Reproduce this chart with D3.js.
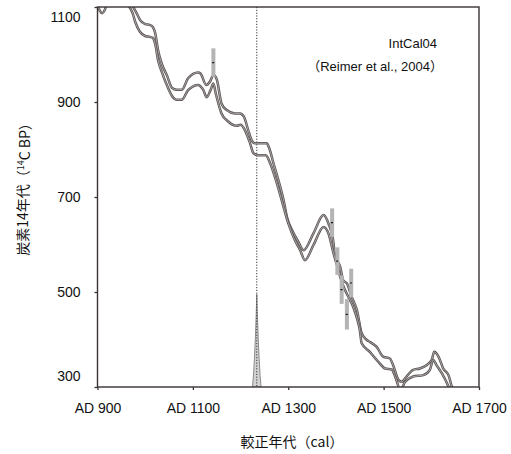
<!DOCTYPE html>
<html><head><meta charset="utf-8">
<script src="https://cdn.jsdelivr.net/npm/d3@7"></script>
<style>body{margin:0;background:#fff}svg{display:block}</style>
</head><body>
<svg id="c" width="511" height="454"></svg>
<script>
// ---- data ----
const xTicks = [900, 1100, 1300, 1500, 1700];
const xTickLabels = ["AD 900", "AD 1100", "AD 1300", "AD 1500", "AD 1700"];
const yTicks = [300, 500, 700, 900, 1100];

const upperYears = [900,920,940,960,975,983,989,1000,1010,1016,1021,1027,1035,1046,1056,1066,1077,1090,1111,1116,1128,1136,1143,1150,1160,1171,1188,1199,1207,1216,1223,1230,1255,1260,1269,1283,1290,1297,1311,1321,1332,1353,1374,1384,1395,1398,1409,1415,1423,1433,1444,1454,1465,1471,1485,1499,1513,1520,1531,1538,1548,1562,1576,1590,1601,1606,1615,1625,1636,1643,1650];
const upperBP    = [1135,1125,1130,1120,1100,1085,1073,1064,1062,1058,1045,1009,980,955,930,926,926,950,962,960,936,943,957,948,897,883,876,876,869,841,820,813,813,803,771,722,694,659,624,606,588,624,662,645,603,574,553,525,518,490,462,413,399,395,385,364,360,346,315,311,322,336,339,346,357,374,364,339,325,301,283];

const lowerYears = [895,900,905,910,915,920,935,955,967,974,979,989,1000,1010,1016,1021,1027,1035,1046,1056,1065,1077,1090,1111,1122,1129,1137,1143,1148,1160,1174,1192,1200,1209,1220,1227,1237,1253,1262,1276,1286,1300,1314,1325,1335,1353,1374,1384,1395,1402,1409,1419,1426,1436,1444,1450,1454,1471,1489,1503,1517,1524,1531,1534,1545,1562,1583,1597,1604,1611,1622,1636,1643];
const lowerBP    = [1120,1105,1092,1087,1093,1108,1125,1115,1100,1086,1069,1048,1039,1037,1035,1022,988,963,934,913,905,905,925,936,925,910,925,939,918,876,859,850,852,841,813,792,788,788,771,729,694,645,609,588,567,599,637,624,581,557,532,504,490,469,445,420,392,374,353,339,337,322,301,290,311,322,325,336,357,346,329,301,283];

// measured samples: year, 14C age, error
const sampleYears = [1143, 1392, 1403, 1412, 1423, 1432];
const sampleBP    = [983, 646, 565, 505, 453, 519];
const sampleErr   = [30, 30, 29, 30, 32, 30];

// calibrated probability distribution
const probYears   = [1225,1227,1229,1231,1233,1234,1235,1237,1239,1241,1243];
const probDensity = [0, 0.12, 0.3, 0.52, 0.82, 1, 0.82, 0.52, 0.3, 0.12, 0];
const dateLineYear = 1234;

// ---- drawing ----
const svg = d3.select("#c");
const L = 97.5, R = 479, T = 7, B = 387;
const x = d3.scaleLinear([900, 1700], [L, R]);
const y = d3.scaleLinear([300, 1100], [B, T]);
const yProb = d3.scaleLinear([0, 1], [y(300), y(495)]);
const axisColor = "#3a3232";
const latin = "'Liberation Sans', Arial, 'Noto Sans CJK JP', sans-serif";
const cjk = "'Noto Sans CJK JP', 'Liberation Sans', sans-serif";

svg.append("defs").append("clipPath").attr("id", "plot")
  .append("rect").attr("x", L).attr("y", T).attr("width", R - L).attr("height", B - T);

const g = svg.append("g").attr("clip-path", "url(#plot)");

// probability distribution
const area = d3.area().x((d, i) => x(probYears[i])).y0(yProb(0)).y1((d) => yProb(d));
g.append("path").datum(probDensity).attr("d", area)
  .attr("fill", "#d2d2d2").attr("stroke", "#8a8a8a").attr("stroke-width", 1);

// date line
g.append("line").attr("x1", x(dateLineYear)).attr("x2", x(dateLineYear))
  .attr("y1", T).attr("y2", B).attr("stroke", "#333").attr("stroke-width", 1)
  .attr("stroke-dasharray", "1.2,1.6");

// curves
function curve(years, vals) {
  const line = d3.line().x((d, i) => x(years[i])).y((d) => y(d)).curve(d3.curveMonotoneX);
  g.append("path").datum(vals).attr("d", line).attr("fill", "none")
    .attr("stroke", "#5c5454").attr("stroke-width", 2.5).attr("stroke-linejoin", "round");
  g.append("path").datum(vals).attr("d", line).attr("fill", "none")
    .attr("stroke", "#bdb9b9").attr("stroke-width", 0.8).attr("stroke-linejoin", "round");
}
curve(upperYears, upperBP);
curve(lowerYears, lowerBP);

// sample bars
sampleYears.forEach((yr, i) => {
  g.append("rect").attr("x", x(yr) - 2).attr("width", 4)
    .attr("y", y(sampleBP[i] + sampleErr[i]))
    .attr("height", y(sampleBP[i] - sampleErr[i]) - y(sampleBP[i] + sampleErr[i]))
    .attr("fill", "#b4b4b4");
  g.append("line").attr("x1", x(yr) - 1.2).attr("x2", x(yr) + 0.8)
    .attr("y1", y(sampleBP[i])).attr("y2", y(sampleBP[i]))
    .attr("stroke", "#111").attr("stroke-width", 1.2);
});

// frame
svg.append("rect").attr("x", L).attr("y", T).attr("width", R - L).attr("height", B - T)
  .attr("fill", "none").attr("stroke", axisColor).attr("stroke-width", 1.4);

// axes
const xAxis = svg.append("g").attr("transform", `translate(0,${B})`)
  .call(d3.axisBottom(x).tickValues(xTicks).tickFormat((d, i) => xTickLabels[i]).tickSize(3).tickPadding(13));
const yAxis = svg.append("g").attr("transform", `translate(${L},0)`)
  .call(d3.axisLeft(y).tickValues(yTicks).tickFormat(d3.format("d")).tickSize(3).tickPadding(14));
[xAxis, yAxis].forEach(a => {
  a.select(".domain").remove();
  a.selectAll("line").attr("stroke", axisColor).attr("stroke-width", 1.3);
  a.selectAll("text").attr("fill", "#111").style("font-family", latin).style("font-size", "14px");
});
yAxis.selectAll(".tick text").attr("dy", d => d === 1100 ? "1.05em" : d === 300 ? "-0.45em" : "0.32em");

// axis titles
svg.append("text").attr("x", 292).attr("y", 447).attr("text-anchor", "middle")
  .style("font-family", cjk).style("font-size", "14px").attr("fill", "#111").text("較正年代（cal）");

const yt = svg.append("text").attr("transform", "translate(28,186) rotate(-90)")
  .attr("text-anchor", "middle").style("font-family", cjk).style("font-size", "14px").attr("fill", "#111");
yt.append("tspan").text("炭素14年代（");
yt.append("tspan").attr("dy", "-0.45em").style("font-size", "9px").text("14");
yt.append("tspan").attr("dy", "0.45em").text("C BP）");

// annotation
svg.append("text").attr("x", 437).attr("y", 48).attr("text-anchor", "end")
  .style("font-family", latin).style("font-size", "13px").attr("fill", "#111").text("IntCal04");
svg.append("text").attr("x", 443).attr("y", 71).attr("text-anchor", "end")
  .style("font-family", latin).style("font-size", "13px").attr("fill", "#111").text("（Reimer et al., 2004）");
</script>
</body></html>
